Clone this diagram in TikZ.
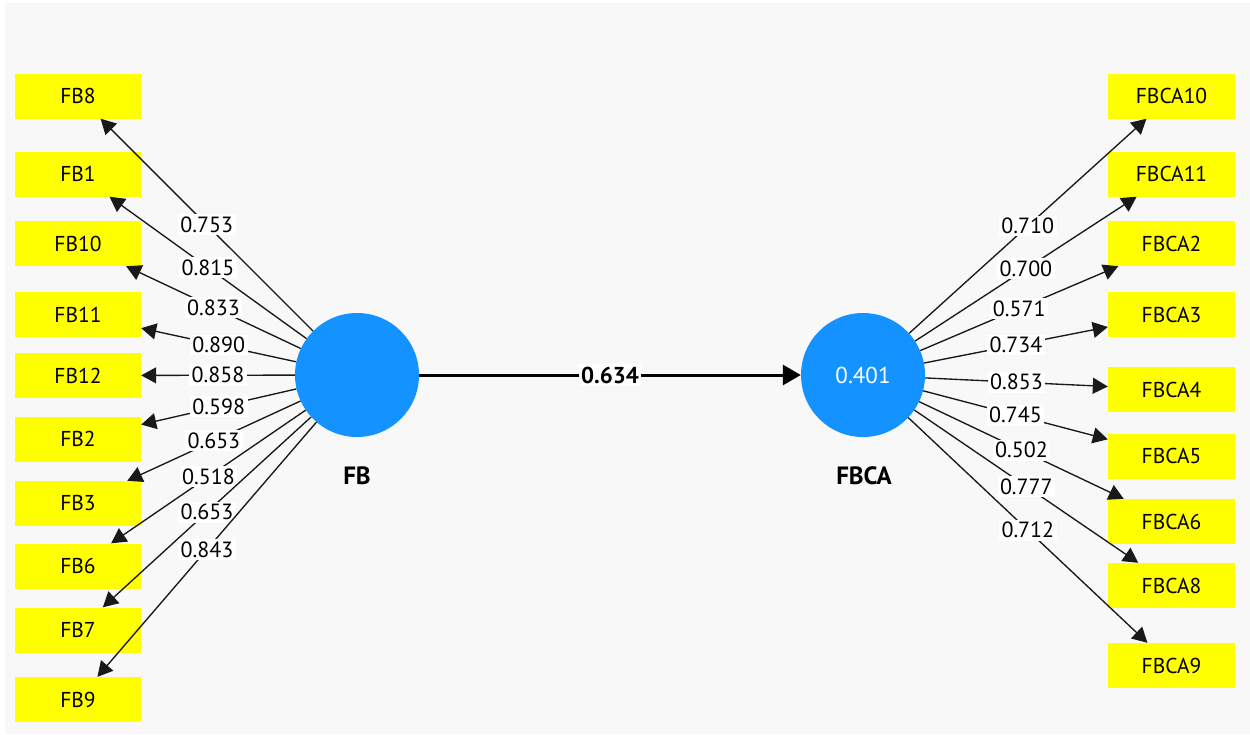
\documentclass[tikz,border=0pt]{standalone}
\usepackage{fontspec}
\setmainfont{PT Sans}
\usetikzlibrary{arrows.meta}
\definecolor{bggray}{HTML}{F8F8F8}
\definecolor{indyellow}{HTML}{FFFF00}
\definecolor{lvblue}{HTML}{1492FF}
\tikzset{
  indbox/.style={fill=indyellow, minimum width=126pt, minimum height=45pt, inner sep=0pt, font=\fontsize{21.5}{24}\selectfont},
  lvcircle/.style={circle, fill=lvblue, minimum size=124pt, inner sep=0pt},
  lvname/.style={font=\fontsize{25}{28}\selectfont\bfseries},
  lbl/.style={fill=white, inner sep=2.5pt, font=\fontsize{22}{24}\selectfont},
  loadarrow/.style={draw=black!90, line width=1.35pt, -{Triangle[length=15pt,width=16pt]}},
  patharrow/.style={draw=black, line width=3pt, -{Triangle[length=18pt,width=20pt]}}
}
\begin{document}
\begin{tikzpicture}[x=1pt,y=-1pt]
\useasboundingbox (0,0) rectangle (1250,734);
\fill[white] (0,0) rectangle (1250,734);
\fill[bggray] (5,3) rectangle (1250,734);
% latent variables
\node[lvcircle] (FB) at (357,375) {};
\node[lvcircle, text=white, font=\fontsize{23}{26}\selectfont] (FBCA) at (863,375) {0.401};
\node[lvname] (FBname) at (357,476) {FB};
\node[lvname] (FBCAname) at (864,476) {FBCA};
% left indicators
\node[indbox] (FB8)  at (78,96)    {FB8};
\node[indbox] (FB1)  at (78,174)   {FB1};
\node[indbox] (FB10) at (78,243.5) {FB10};
\node[indbox] (FB11) at (78,314.5) {FB11};
\node[indbox] (FB12) at (78,375.5) {FB12};
\node[indbox] (FB2)  at (78,439)   {FB2};
\node[indbox] (FB3)  at (78,503.5) {FB3};
\node[indbox] (FB6)  at (78,566)   {FB6};
\node[indbox] (FB7)  at (78,630)   {FB7};
\node[indbox] (FB9)  at (78,699.5) {FB9};
% right indicators
\node[indbox, minimum width=127pt] (FBCA10) at (1171.5,96)    {FBCA10};
\node[indbox, minimum width=127pt] (FBCA11) at (1171.5,174)   {FBCA11};
\node[indbox, minimum width=127pt] (FBCA2)  at (1171.5,243.5) {FBCA2};
\node[indbox, minimum width=127pt] (FBCA3)  at (1171.5,314.5) {FBCA3};
\node[indbox, minimum width=127pt] (FBCA4)  at (1171.5,389.5) {FBCA4};
\node[indbox, minimum width=127pt] (FBCA5)  at (1171.5,456)   {FBCA5};
\node[indbox, minimum width=127pt] (FBCA6)  at (1171.5,521.5) {FBCA6};
\node[indbox, minimum width=127pt] (FBCA8)  at (1171.5,585.5) {FBCA8};
\node[indbox, minimum width=127pt] (FBCA9)  at (1171.5,665.5) {FBCA9};
% left loadings
\draw[loadarrow] (FB) -- node[lbl] {0.753} (FB8);
\draw[loadarrow] (FB) -- node[lbl] {0.815} (FB1);
\draw[loadarrow] (FB) -- node[lbl] {0.833} (FB10);
\draw[loadarrow] (FB) -- node[lbl] {0.890} (FB11);
\draw[loadarrow] (FB) -- node[lbl] {0.858} (FB12);
\draw[loadarrow] (FB) -- node[lbl] {0.598} (FB2);
\draw[loadarrow] (FB) -- node[lbl] {0.653} (FB3);
\draw[loadarrow] (FB) -- node[lbl] {0.518} (FB6);
\draw[loadarrow] (FB) -- node[lbl] {0.653} (FB7);
\draw[loadarrow] (FB) -- node[lbl] {0.843} (FB9);
% right loadings
\draw[loadarrow] (FBCA) -- node[lbl] {0.710} (FBCA10);
\draw[loadarrow] (FBCA) -- node[lbl] {0.700} (FBCA11);
\draw[loadarrow] (FBCA) -- node[lbl] {0.571} (FBCA2);
\draw[loadarrow] (FBCA) -- node[lbl] {0.734} (FBCA3);
\draw[loadarrow] (FBCA) -- node[lbl] {0.853} (FBCA4);
\draw[loadarrow] (FBCA) -- node[lbl] {0.745} (FBCA5);
\draw[loadarrow] (FBCA) -- node[lbl] {0.502} (FBCA6);
\draw[loadarrow] (FBCA) -- node[lbl] {0.777} (FBCA8);
\draw[loadarrow] (FBCA) -- node[lbl] {0.712} (FBCA9);
% path
\draw[patharrow] (FB) -- node[lbl, font=\fontsize{23}{26}\selectfont\bfseries] {0.634} (FBCA);
\end{tikzpicture}
\end{document}
